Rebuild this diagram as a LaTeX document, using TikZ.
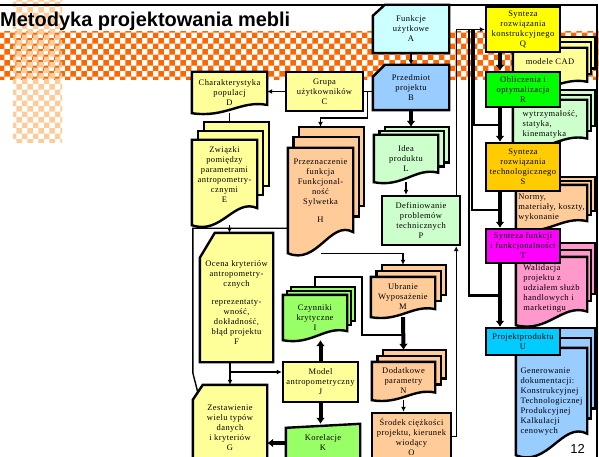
\documentclass[tikz,border=0pt]{standalone}
\usepackage{fontspec}
\setmainfont{Liberation Serif}
\newfontfamily\titlefont{Liberation Sans}
\newfontfamily\boxfont{Liberation Serif}[LetterSpace=5]
\usetikzlibrary{arrows.meta, patterns, calc}

\pgfdeclarelayer{band}
\pgfdeclarelayer{links}
\pgfdeclarelayer{shapes}
\pgfsetlayers{band,links,shapes,main}

\definecolor{paleyellow}{HTML}{FFFF99}
\definecolor{peach}{HTML}{FFCC99}
\definecolor{palegreen}{HTML}{CCFFCC}
\definecolor{limegreen}{HTML}{99FF66}
\definecolor{paleblue}{HTML}{99CCFF}
\definecolor{palecyan}{HTML}{CCFFFF}
\definecolor{brightyellow}{HTML}{FFFF00}
\definecolor{brightgreen}{HTML}{00FF00}
\definecolor{gold}{HTML}{FFCC00}
\definecolor{magentabox}{HTML}{FF00FF}
\definecolor{pinkbox}{HTML}{FF99CC}
\definecolor{cyanbox}{HTML}{00CCFF}
\definecolor{bandorange}{HTML}{FF6600}

% wavy bottom round a node
\newcommand{\docoutline}[2]{%
  \draw[boxline, fill=#2] let \p1=(#1.north west), \p2=(#1.south east),
      \n1={\x2-\x1}, \n2={\y1-\y2} in
    (\x1,\y1) -- (\x2,\y1) -- (\x2,{\y2+0.2*\n2})
    .. controls ({\x2-0.35*\n1},{\y2+0.32*\n2}) and ({\x1+0.45*\n1},{\y2-0.12*\n2}) .. (\x1,\y2) -- cycle;}
\newcommand{\singledoc}[2]{%
  \begin{pgfonlayer}{shapes}\docoutline{#1}{#2}\end{pgfonlayer}}
% three sheets: node, colour, dx, dy
\newcommand{\stackdoc}[4]{%
  \coordinate (#1t) at ([yshift=2*#4pt]#1.north);
  \begin{pgfonlayer}{shapes}
    \foreach \k in {2,1}
      \draw[boxline, fill=#2] let \p1=(#1.north west), \p2=(#1.south east), \n2={\y1-\y2} in
        ({\x1+\k*#3pt},{\y1+\k*#4pt}) rectangle ({\x2+\k*#3pt},{\y2+0.25*\n2+\k*#4pt});
    \docoutline{#1}{#2}
  \end{pgfonlayer}}
% cut corner: node, colour, cut x, cut y
\newcommand{\cardshape}[4]{%
  \begin{pgfonlayer}{shapes}
    \draw[boxline, fill=#2] let \p1=(#1.north west), \p2=(#1.south east) in
      (\x1,{\y1-#4pt}) -- ({\x1+#3pt},\y1) -- (\x2,\y1) -- (\x2,\y2) -- (\x1,\y2) -- cycle;
  \end{pgfonlayer}}
\newcommand{\slantshape}[3]{%
  \begin{pgfonlayer}{shapes}
    \draw[boxline, fill=#2] let \p1=(#1.north west), \p2=(#1.south east) in
      (\x1,{\y1-#3pt}) -- (\x2,\y1) -- (\x2,\y2) -- (\x1,\y2) -- cycle;
  \end{pgfonlayer}}

\begin{document}
\begin{tikzpicture}[x=1pt, y=-1pt,
    boxline/.style={line width=2.4pt},
    tbox/.style={inner sep=1pt, align=center, font=\boxfont\fontsize{8.5}{10}\selectfont},
    rbox/.style={tbox, draw, line width=2.4pt},
    lbox/.style={tbox, align=left},
    sz/.style 2 args={minimum width=#1pt, minimum height=#2pt},
    link/.style={line width=1.4pt},
    heavy/.style={line width=4pt},
    fan/.style={line width=2.4pt},
    arr/.style={-{Latex[length=5pt,width=5pt]}},
    bigarr/.style={-{Latex[length=6pt,width=9pt]}}]
    \useasboundingbox (0,0) rectangle (599,457);

    % Band:
    \begin{pgfonlayer}{band}
        \fill[pattern=checkerboard, pattern color=bandorange] (0,32) rectangle (599,80);
        \fill[pattern=checkerboard, pattern color=peach] (13,0) rectangle (62,143);
    \end{pgfonlayer}
    \node[anchor=base west, inner sep=0, font=\titlefont\bfseries\fontsize{20}{24}\selectfont] (title) at (0,27) {Metodyka projektowania mebli};

    % Left part:
    \node[tbox, sz={75}{41}] (D) at (229.5,92.5) {Charakterystyka\\populacj\\D};
    \singledoc{D}{paleyellow}
    \node[rbox, fill=paleyellow, sz={77}{39}] (C) at (324.5,91.5) {Grupa\\użytkowników\\C};
    \node[tbox, sz={65}{85}] (E) at (224.5,182.5) {Związki\\pomiędzy\\parametrami\\antropometry-\\cznymi\\E\\[6pt]\mbox{}};
    \stackdoc{E}{paleyellow}{6}{9}
    \node[tbox, sz={65}{105}] (H) at (320.5,200.5) {Przeznaczenie\\funkcja\\Funkcjonal-\\ność\\Sylwetka\\[8pt]H\\[10pt]\mbox{}};
    \stackdoc{H}{peach}{5.5}{10.5}
    \node[tbox, sz={73}{129}] (F) at (236.5,297.5) {\mbox{}\\[6pt]Ocena kryteriów\\antropometry-\\cznych\\[8pt]reprezentaty-\\wność,\\dokładność,\\błąd projektu\\F};
    \cardshape{F}{paleyellow}{15}{25}
    \node[tbox, sz={74}{85}] (G) at (230,427.5) {Zestawienie\\wielu typów\\danych\\i kryteriów\\G};
    \cardshape{G}{paleyellow}{10}{15}
    \node[tbox, sz={64}{45}] (I) at (315,317.5) {Czynniki\\krytyczne\\I};
    \stackdoc{I}{limegreen}{4}{4}
    \node[rbox, fill=paleyellow, sz={75}{40}] (J) at (320.5,382) {Model\\antropometryczny\\J};
    \node[tbox, sz={74}{38}] (K) at (323,443) {Korelacje\\K};
    \slantshape{K}{limegreen}{4}

    % Middle part:
    \node[tbox, sz={76}{48}] (A) at (411,29) {Funkcje\\użytkowe\\A};
    \cardshape{A}{palecyan}{12}{11}
    \node[tbox, sz={76}{45}] (B) at (411,87.5) {Przedmiot\\projektu\\B};
    \cardshape{B}{paleblue}{12}{12}
    \node[tbox, sz={64}{47}] (L) at (406,158.5) {Idea\\produktu\\L};
    \stackdoc{L}{palegreen}{5.5}{4}
    \node[rbox, fill=palegreen, sz={78}{49}] (P) at (421,220.5) {Definiowanie\\problemów\\technicznych\\P};
    \node[tbox, sz={64}{40}] (M) at (403,297) {Ubranie\\Wyposażenie\\M};
    \stackdoc{M}{peach}{5.5}{6}
    \node[tbox, sz={63}{38}] (N) at (403.5,381) {Dodatkowe\\parametry\\N};
    \stackdoc{N}{peach}{5.5}{6}
    \node[rbox, fill=peach, sz={79}{47}] (O) at (411.5,436.5) {Środek ciężkości\\projektu, kierunek\\wiodący\\O};

    % Right part:
    \node[lbox, sz={74}{42}] (cadnote) at (550,69) {modele CAD\\[4pt]\mbox{}};
    \stackdoc{cadnote}{paleyellow}{4}{5.5}
    \node[lbox, sz={74}{48}] (strnote) at (550,124) {\mbox{}\\[-4pt]wytrzymałość,\\statyka,\\kinematyka};
    \stackdoc{strnote}{palegreen}{4}{5}
    \node[lbox, sz={71}{45}] (normnote) at (551.5,207.5) {Normy,\\materiały, koszty,\\wykonanie};
    \stackdoc{normnote}{peach}{4}{4}
    \node[lbox, sz={71}{68}] (valnote) at (551.5,291) {Walidacja\\projektu z\\udziałem służb\\handlowych i\\marketingu\\[-4pt]\mbox{}};
    \stackdoc{valnote}{pinkbox}{4}{7}
    \node[lbox, sz={71}{107}] (docnote) at (551.5,401.5) {Generowanie\\dokumentacji:\\Konstrukcyjnej\\Technologicznej\\Produkcyjnej\\Kalkulacji\\cenowych};
    \stackdoc{docnote}{paleblue}{4}{10}

    \node[rbox, fill=brightyellow, sz={74}{45}] (Q) at (523,29.5) {Synteza\\rozwiązania\\konstrukcyjnego\\Q};
    \node[rbox, fill=brightgreen, sz={74}{35}] (R) at (523,89.5) {Obliczenia i\\optymalizacja\\R};
    \node[rbox, fill=gold, sz={74}{48}] (S) at (523,167) {Synteza\\rozwiązania\\technologicznego\\S};
    \node[rbox, fill=magentabox, sz={74}{34}] (T) at (523,246) {Synteza funkcji\\i funkcjonalności\\T};
    \node[rbox, fill=cyanbox, sz={74}{27}] (U) at (523,341.5) {Projektproduktu\\U};

    \node[anchor=base east, inner sep=0, font=\titlefont\fontsize{13}{15}\selectfont] (page) at (585,453) {12};

    % Connectors:
    \coordinate (frameL) at (0,5);
    \coordinate (frameR) at (597,5);
    \coordinate (frameB) at (597,457);
    \coordinate (gc) at ([xshift=5pt,yshift=-7.5pt]G.north west);
    \coordinate (spine) at ([xshift=-23pt]Q.south);
    \coordinate (rs) at ($(R.south)!.5!(S.north)$);
    \coordinate (st) at ($(S.south)!.5!(T.north)$);
    \coordinate (tu) at ($(T.south)!.5!(U.north)$);
    \begin{pgfonlayer}{links}
        \draw[link] (frameL) -- (frameR) -- (frameB);
        \draw[link, arr] (C.west) -- (C.west -| D.east);
        \draw[link] (B.west |- C.east) -- (C.east);
        \draw[link, arr] ([xshift=3pt]C.east) -- ++(0,26.5) -| (Ht);
        \draw[link, arr] (A.south) -- (B.north);
        \draw[heavy, bigarr] (B.south) -- (B.south |- Lt);
        \draw[link, arr] (L.south) -- (L.south |- P.north);
        \draw[link] (D.south) -- (D.south |- Et);
        \draw[link, arr] (D.south |- E.south) -- (D.south |- F.north);
        \draw[link] ([yshift=25pt]H.south west) -| ([yshift=12pt]G.north west) -- (gc);
        \draw[link, arr] (G.north |- F.south) -- (G.north);
        \draw[link, arr] (G.north |- F.south) |- ([yshift=10pt]J.west);
        \draw[heavy, bigarr] (J.north) -- (J.north |- I.south);
        \draw[heavy, bigarr] (J.south) -- (J.south |- K.north);
        \draw[heavy, bigarr] (K.west) -- (K.west -| G.east);
        \draw[link, arr] (H.south) -| (Mt);
        \draw[link, arr] (It) -- ++(0,-10) -| ++(47,58) -| (Nt);
        \draw[heavy, bigarr] (M.south) -- (Nt);
        \draw[link, arr] (N.south) -- (N.south |- O.north);
        \draw[link, arr] (O.east) -| ([xshift=-5pt]P.south east);
        \draw[link, arr] ([xshift=-5pt]P.north east) |- (Q.west);
        \draw[fan] ([xshift=-16pt]Q.west) |- (spine |- tu);
        \draw[fan] ([xshift=-13pt]Q.west) |- (spine |- st);
        \draw[fan] ([xshift=-11pt]Q.west) |- (spine |- rs);
        \draw[heavy, bigarr] (spine |- Q.south) -- (spine |- R.north);
        \foreach \a/\b in {R/S, S/T, T/U}
            \draw[heavy, bigarr] (spine |- \a.south) -- (spine |- \b.north);
    \end{pgfonlayer}
\end{tikzpicture}
\end{document}
